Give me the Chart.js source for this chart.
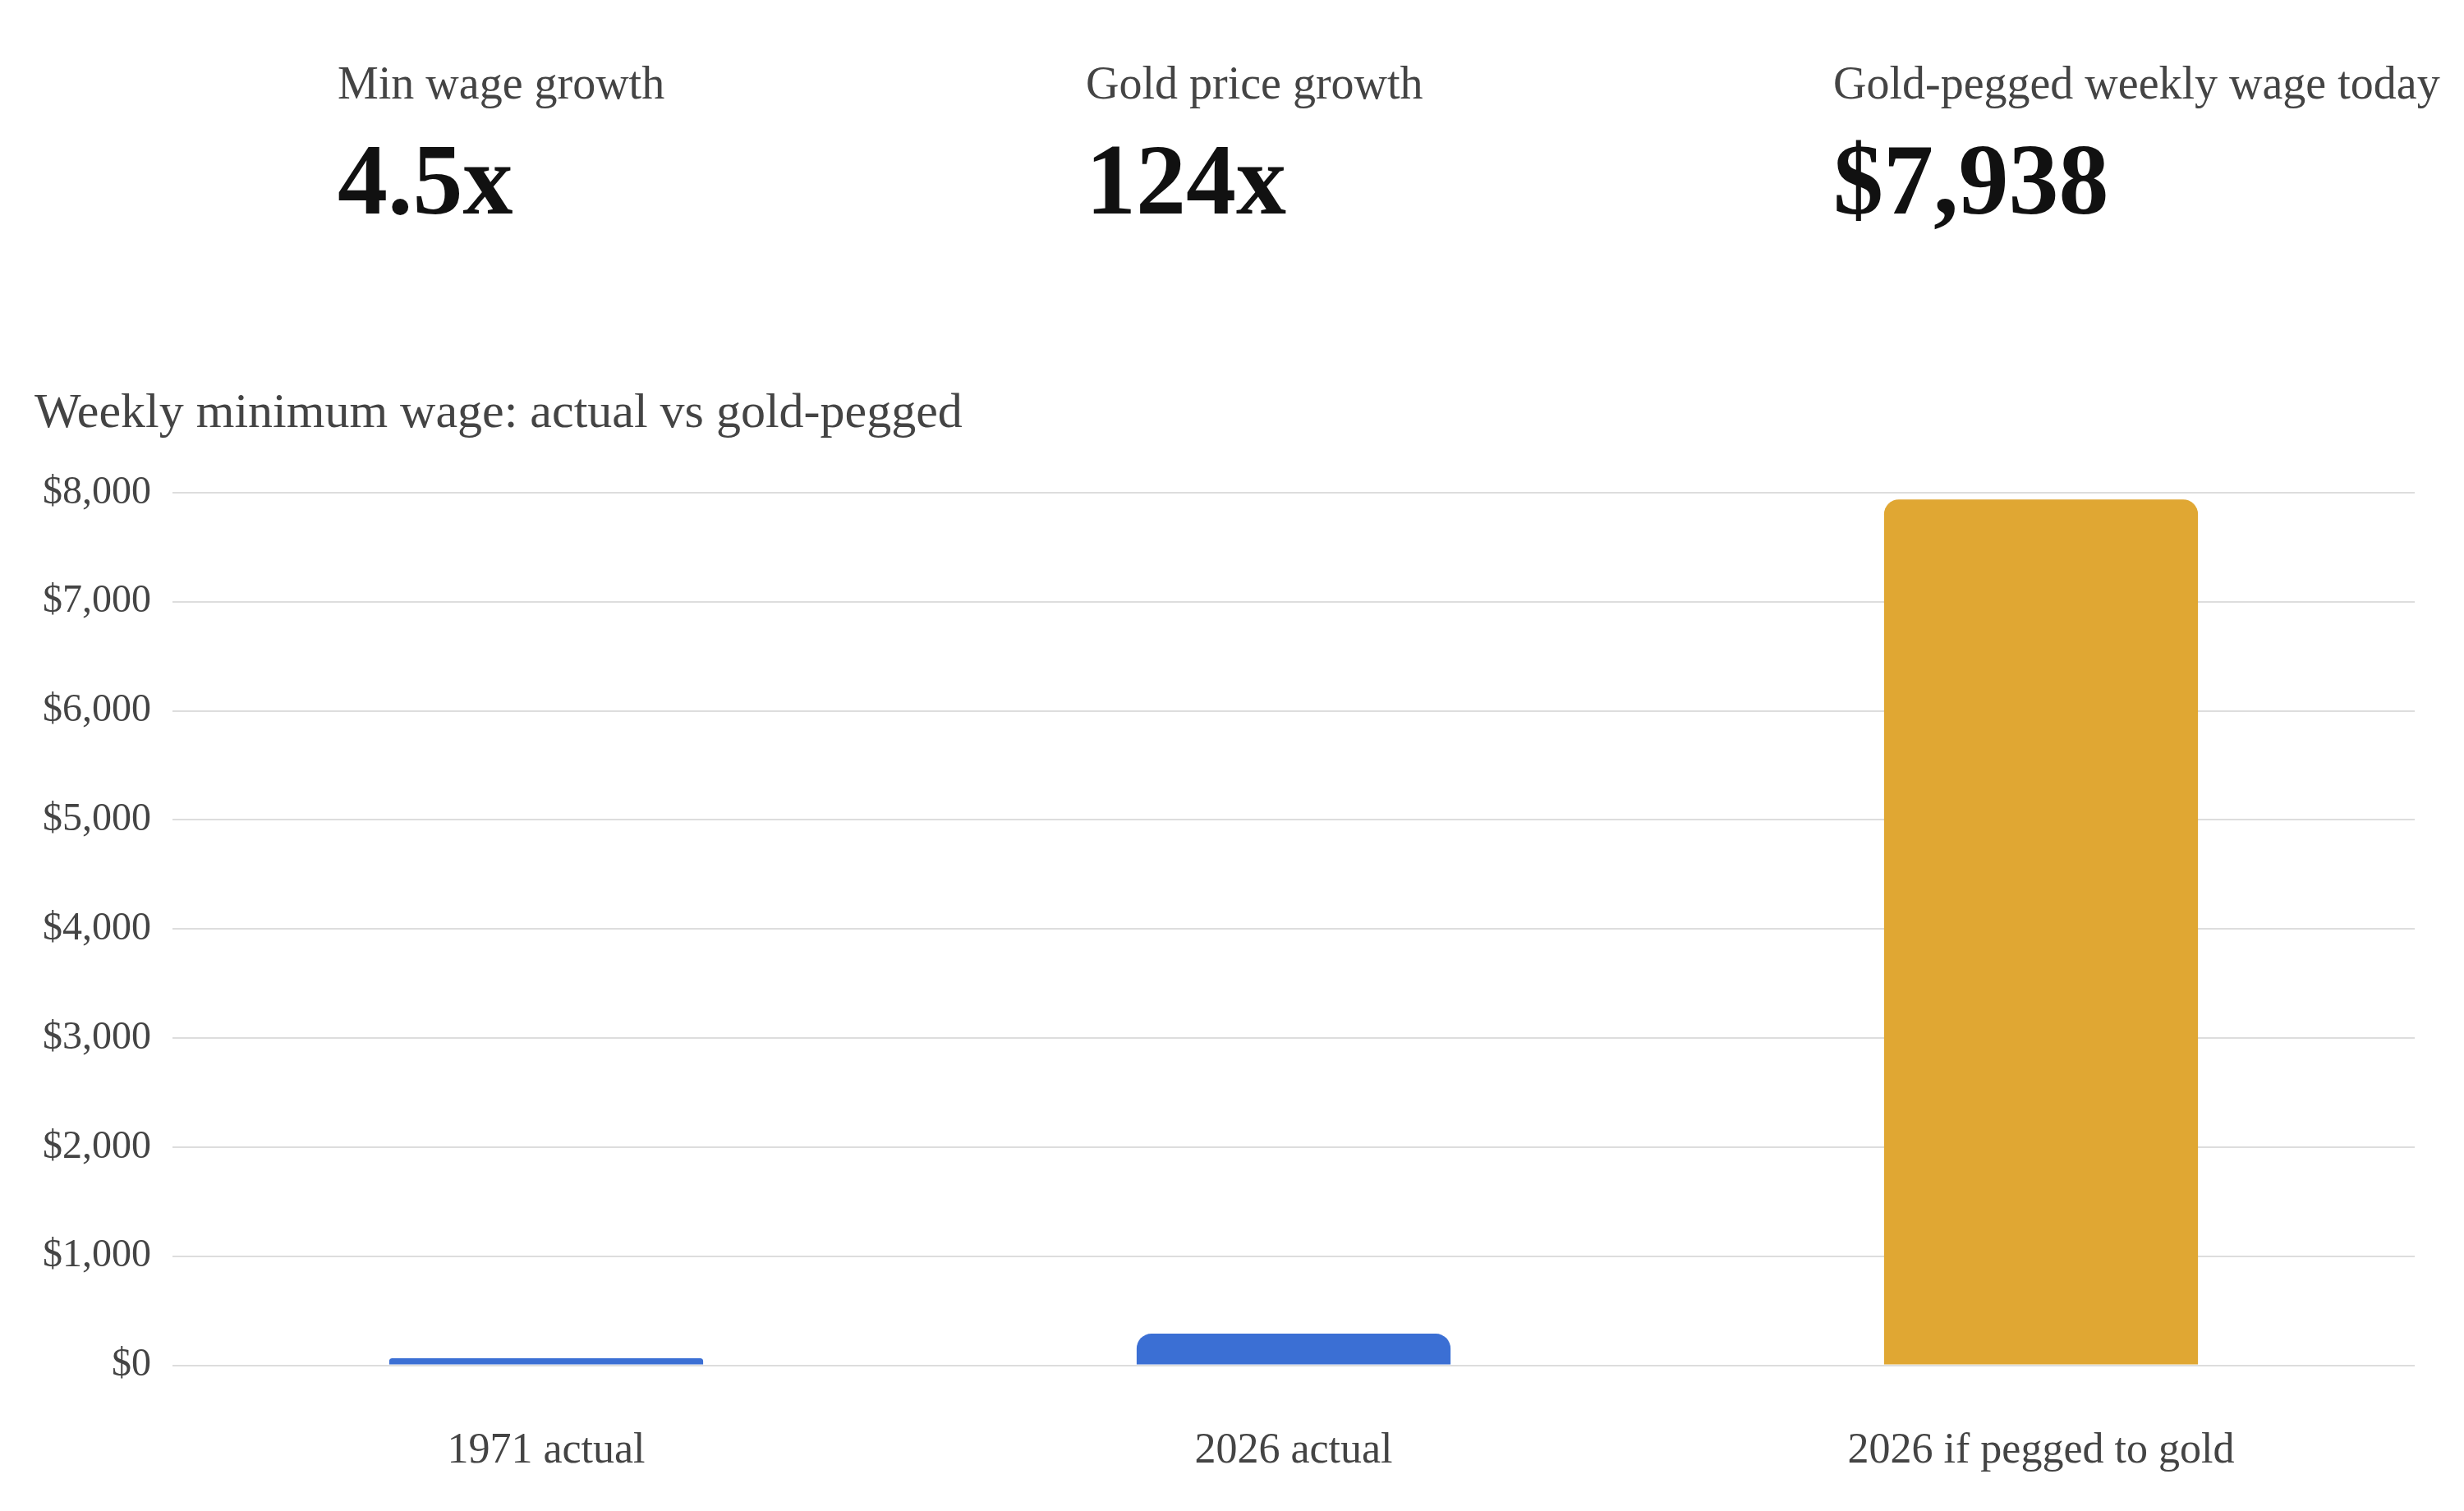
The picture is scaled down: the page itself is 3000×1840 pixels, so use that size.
<!DOCTYPE html>
<html>
<head>
<meta charset="utf-8">
<script src="https://cdn.jsdelivr.net/npm/chart.js@4.4.1/dist/chart.umd.min.js"></script>
<style>
    body { margin: 0; background: #fff; font-family: "Liberation Serif", "Times New Roman", serif; }
    .pagina { position: relative; width: 3000px; height: 1840px; overflow: hidden; }
    .kpi { position: absolute; top: 73px; }
    .kpi-rotulo { font-size: 56px; line-height: 1; color: #444; white-space: nowrap; }
    .kpi-valor { margin-top: 29px; font-size: 122px; line-height: 1; font-weight: bold; color: #111; white-space: nowrap; }
    .titulo { position: absolute; left: 42px; top: 470px; font-size: 60px; line-height: 1; color: #444; white-space: nowrap; }
    #graficoSalario { position: absolute; left: 0; top: 540px; }
</style>
</head>
<body>
<div class="pagina">
    <div class="kpi" style="left:411px"><div class="kpi-rotulo" id="rotulo0"></div><div class="kpi-valor" id="valor0"></div></div>
    <div class="kpi" style="left:1322px"><div class="kpi-rotulo" id="rotulo1"></div><div class="kpi-valor" id="valor1"></div></div>
    <div class="kpi" style="left:2232px"><div class="kpi-rotulo" id="rotulo2"></div><div class="kpi-valor" id="valor2"></div></div>
    <div class="titulo">Weekly minimum wage: actual vs gold-pegged</div>
    <canvas id="graficoSalario" width="3000" height="1325"></canvas>
</div>
<script>
// dados
const kpiRotulos = ['Min wage growth', 'Gold price growth', 'Gold-pegged weekly wage today'];
const kpiValores = ['4.5x', '124x', '$7,938'];

const categorias = ['1971 actual', '2026 actual', '2026 if pegged to gold'];
const salarioSemanal = [64, 290, 7938];
const coresBarras = ['#3b6fd4', '#3b6fd4', '#e0a733'];
const ticksY = [0, 1000, 2000, 3000, 4000, 5000, 6000, 7000, 8000];

// cartões do topo
kpiRotulos.forEach(function (r, i) {
    document.getElementById('rotulo' + i).textContent = r;
    document.getElementById('valor' + i).textContent = kpiValores[i];
});

function criarGrafico() {
    const canvas = document.getElementById('graficoSalario');
    if (!canvas) return;

    Chart.defaults.font.family = '"Liberation Serif", "Times New Roman", serif';
    Chart.defaults.color = '#444';

    new Chart(canvas.getContext('2d'), {
        type: 'bar',
        data: {
            labels: categorias,
            datasets: [{
                data: salarioSemanal,
                backgroundColor: coresBarras,
                borderRadius: 18,
                barPercentage: 0.7,
                categoryPercentage: 0.6
            }]
        },
        options: {
            responsive: false,
            animation: false,
            devicePixelRatio: 1,
            layout: { padding: { top: 60, right: 60, bottom: 0, left: 0 } },
            plugins: {
                legend: { display: false },
                tooltip: { enabled: false }
            },
            scales: {
                x: {
                    grid: { display: false },
                    border: { display: false },
                    ticks: { font: { size: 52 }, color: '#444', padding: 66 }
                },
                y: {
                    min: 0,
                    max: ticksY[ticksY.length - 1],
                    afterBuildTicks: function (escala) {
                        escala.ticks = ticksY.map(function (v) { return { value: v }; });
                    },
                    afterFit: function (escala) { escala.width = 210; },
                    grid: { color: '#dddddd', lineWidth: 2, drawTicks: false },
                    border: { display: false },
                    ticks: {
                        font: { size: 48 },
                        color: '#444',
                        padding: 26,
                        callback: function (valor) {
                            return '$' + valor.toLocaleString('en-US');
                        }
                    }
                }
            }
        }
    });
}

criarGrafico();
</script>
</body>
</html>
